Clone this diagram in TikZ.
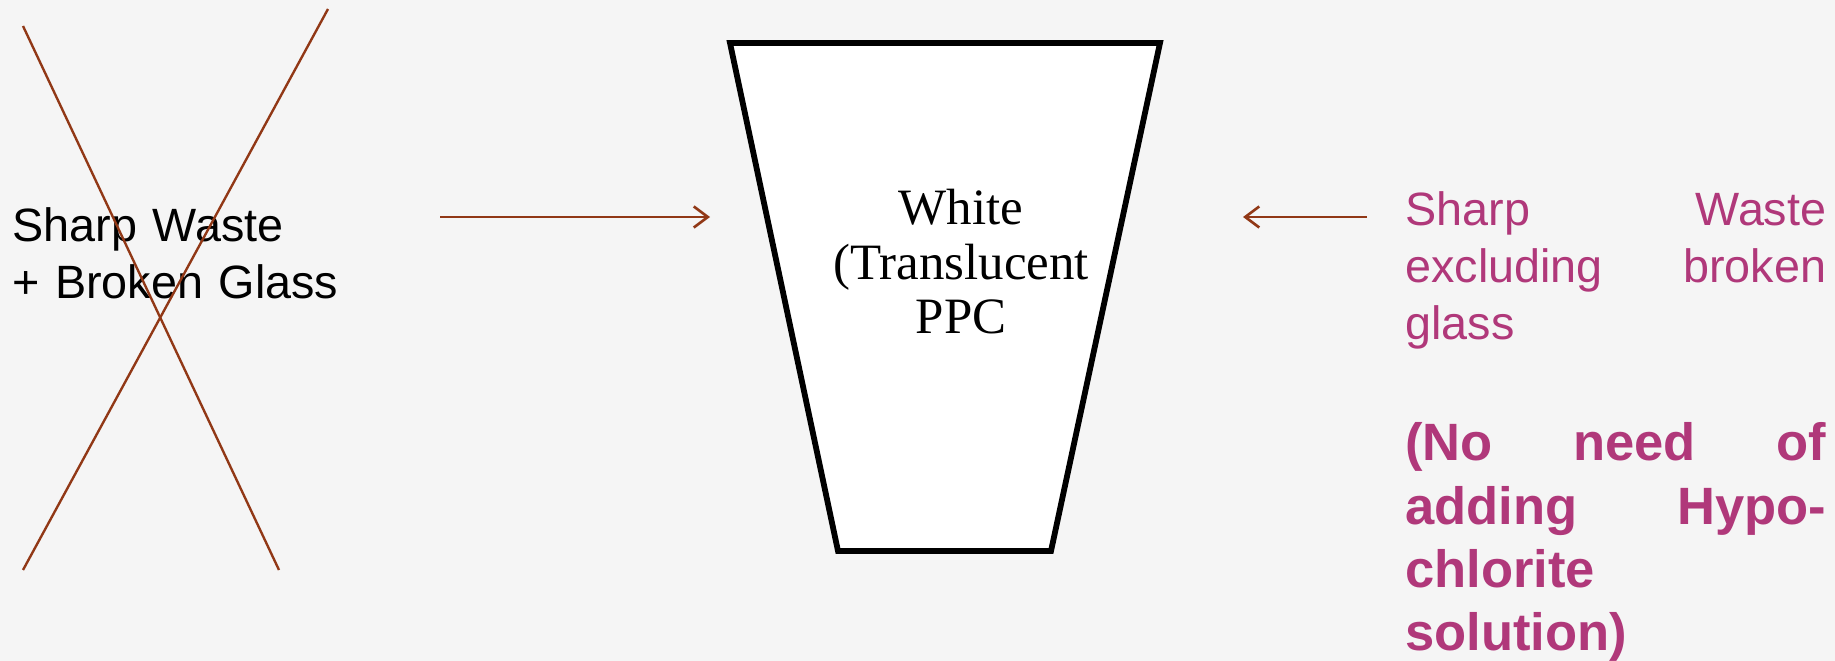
\documentclass[tikz,border=0pt]{standalone}
\usepackage{fontspec}
\setmainfont{Liberation Serif}
\newfontfamily\arialfont{Liberation Sans}
\usetikzlibrary{arrows.meta}
\definecolor{br}{RGB}{145, 56, 22}
\definecolor{mg}{RGB}{176, 56, 122}
\definecolor{bg}{RGB}{245, 245, 245}

\begin{document}
\begin{tikzpicture}[x=0.02cm,y=-0.02cm, % 1 unit = 1px, y downwards
		flow/.style={br,line width=1.5pt,-{Straight Barb[length=8pt,width=12pt]}},
		sans/.style={inner sep=0,anchor=base west,align=left,font=\arialfont\fontsize{26.6}{32.2}\selectfont}]
				\fill[bg] (0,0) rectangle (1835,661); % background
				\useasboundingbox (0,0) rectangle (1835,661);
				% container
				\draw[line width=3.3pt,fill=white,line join=miter] (730,43)--(1160,43)--(1051,551)--(838,551)--cycle;
				\node[inner sep=0,anchor=base,text width=171pt,align=center,font=\fontsize{29}{30.8}\selectfont] (bin) at (961,225) {White\\(Translucent\\PPC};
				% left: crossed out
				\node[sans,text width=200pt] (waste) at (12,242) {Sharp Waste\\+ Broken Glass};
				\draw[br,line width=1.35pt] (23,26)--(279,570);
				\draw[br,line width=1.35pt] (328,9)--(23,570);
				% right: allowed
				\node[sans,mg,text width=239.6pt] (sharp) at (1405,226) {Sharp\hfill Waste\\excluding\hfill broken\\glass};
				\node[sans,mg,text width=239.6pt,font=\arialfont\bfseries\fontsize{29.9}{35.9}\selectfont] (hypo) at (1405,461) {(No\hfill need\hfill of\\adding\hfill Hypo-\\chlorite\\solution)};
				% arrows
				\coordinate (in1) at (440,217);
				\coordinate (in2) at (710,217);
				\coordinate (out1) at (1367,217);
				\coordinate (out2) at (1243,217);
				\draw[flow] (in1)--(in2);
				\draw[flow] (out1)--(out2);
			\end{tikzpicture}
\end{document}
